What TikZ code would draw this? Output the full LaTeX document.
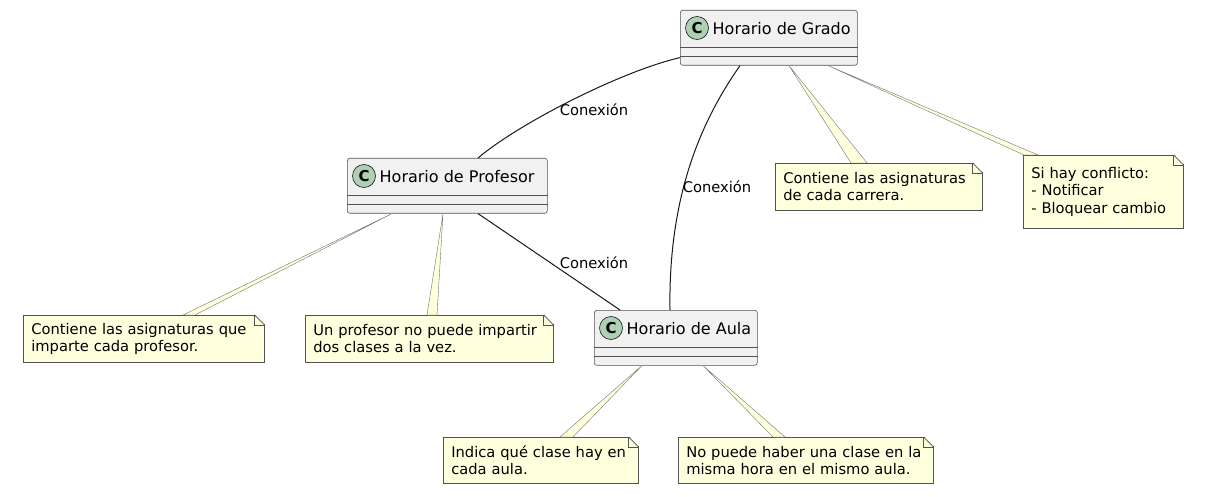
\documentclass[tikz,border=0pt]{standalone}
\usepackage{fontspec}
\setmainfont{DejaVu Sans}
\usepackage{xcolor}
\usetikzlibrary{calc}
\definecolor{clsfill}{HTML}{F1F1F1}
\definecolor{umlline}{HTML}{181818}
\definecolor{spotfill}{HTML}{ADD1B2}
\definecolor{notefill}{HTML}{FEFFDD}
\newcommand{\umlclass}[5]{%
  \node[cls,minimum width=#4pt,anchor=north west] (#1) at (#2,#3) {};
  \draw[sep] ($(#1.south west)+(0,-18)$) -- ($(#1.south east)+(0,-18)$);
  \draw[sep] ($(#1.south west)+(0,-9)$) -- ($(#1.south east)+(0,-9)$);
  \node[spot] (#1c) at ($(#1.north west)+(17,18)$) {C};
  \node[clstitle,anchor=west] (#1t) at ($(#1.north west)+(32.5,18.5)$) {#5};}
\newcommand{\notefold}[1]{%
  \fill[white] ($(#1.north east)+(-10,-1)$) -- ($(#1.north east)+(1,-1)$) -- ($(#1.north east)+(1,10)$) -- cycle;
  \draw[foldline] ($(#1.north east)+(-10,0)$) -- ($(#1.north east)+(0,10)$);
  \draw[foldline] ($(#1.north east)+(-10,0)$) -- ($(#1.north east)+(-10,10)$) -- ($(#1.north east)+(0,10)$);}
\newcommand{\notelink}[4]{\filldraw[link] (#1) -- ($(#2.north west)+(#3,0)$) -- ($(#2.north west)+(#4,0)$) -- cycle;}

\begin{document}
\begin{tikzpicture}[x=1pt,y=-1pt,
  cls/.style={draw=umlline!75,line width=0.6pt,fill=clsfill,rounded corners=2.5pt,minimum height=55pt,inner sep=0pt},
  sep/.style={draw=umlline!75,line width=0.6pt},
  spot/.style={circle,draw=umlline,line width=0.6pt,fill=spotfill,minimum size=23pt,inner sep=0pt,font=\fontsize{15}{15}\selectfont\bfseries},
  clstitle/.style={inner sep=0pt,font=\fontsize{16}{19}\selectfont},
  note/.style={draw=umlline!75,line width=0.6pt,fill=notefill,anchor=north west,align=left,inner xsep=8pt,inner ysep=0pt,font=\fontsize{14.7}{17.3}\selectfont},
  foldline/.style={draw=umlline!75,line width=0.6pt},
  link/.style={draw=umlline!60,line width=0.4pt,fill=notefill},
  assoc/.style={draw=umlline,line width=1pt},
  lbl/.style={font=\fontsize{14.7}{17}\selectfont,inner sep=1pt}]
  \fill[white] (0,0) rectangle (1207,497);
  % clases
  \umlclass{grado}{680}{10}{177}{Horario de Grado}
  \umlclass{profesor}{347}{158}{200}{Horario de Profesor}
  \umlclass{aula}{594}{310}{163}{Horario de Aula}
  % notas
  \node[note,text width=225pt,minimum height=47pt] (n1) at (23,315) {Contiene las asignaturas que\\imparte cada profesor.};
  \node[note,text width=232pt,minimum height=47pt] (n2) at (305,315) {Un profesor no puede impartir\\dos clases a la vez.};
  \node[note,text width=191pt,minimum height=47pt] (n3) at (775,163) {Contiene las asignaturas\\de cada carrera.};
  \node[note,text width=144pt,minimum height=73pt] (n4) at (1023,155) {Si hay conflicto:\\- Notificar\\- Bloquear cambio};
  \node[note,text width=179pt,minimum height=46pt] (n5) at (443,437) {Indica qué clase hay en\\cada aula.};
  \node[note,text width=239pt,minimum height=46pt] (n6) at (678,437) {No puede haber una clase en la\\misma hora en el mismo aula.};
  \foreach \n in {n1,n2,n3,n4,n5,n6} {\notefold{\n}}
  \notelink{$(profesor.south west)+(45,0)$}{n1}{160}{172}
  \notelink{$(profesor.south west)+(96,0)$}{n2}{122}{132}
  \notelink{$(grado.south west)+(109,0)$}{n3}{76}{92}
  \notelink{$(grado.south west)+(148,0)$}{n4}{1}{15}
  \notelink{$(aula.south west)+(48,0)$}{n5}{117}{130}
  \notelink{$(aula.south west)+(109,0)$}{n6}{95}{107}
  % conexiones
  \draw[assoc] ($(grado.south west)+(0,-8)$) .. controls +(-60,14) and +(40,-34) .. ($(profesor.north west)+(131,0)$);
  \draw[assoc] ($(grado.south west)+(60,0)$) .. controls +(-35,50) and +(-2,-120) .. ($(aula.north west)+(76,0)$);
  \draw[assoc] ($(profesor.south west)+(131,0)$) -- ($(aula.north west)+(26,0)$);
  \node[lbl] (c1) at (594,110) {Conexión};
  \node[lbl] (c2) at (717,187) {Conexión};
  \node[lbl] (c3) at (594,263) {Conexión};
\end{tikzpicture}
\end{document}
